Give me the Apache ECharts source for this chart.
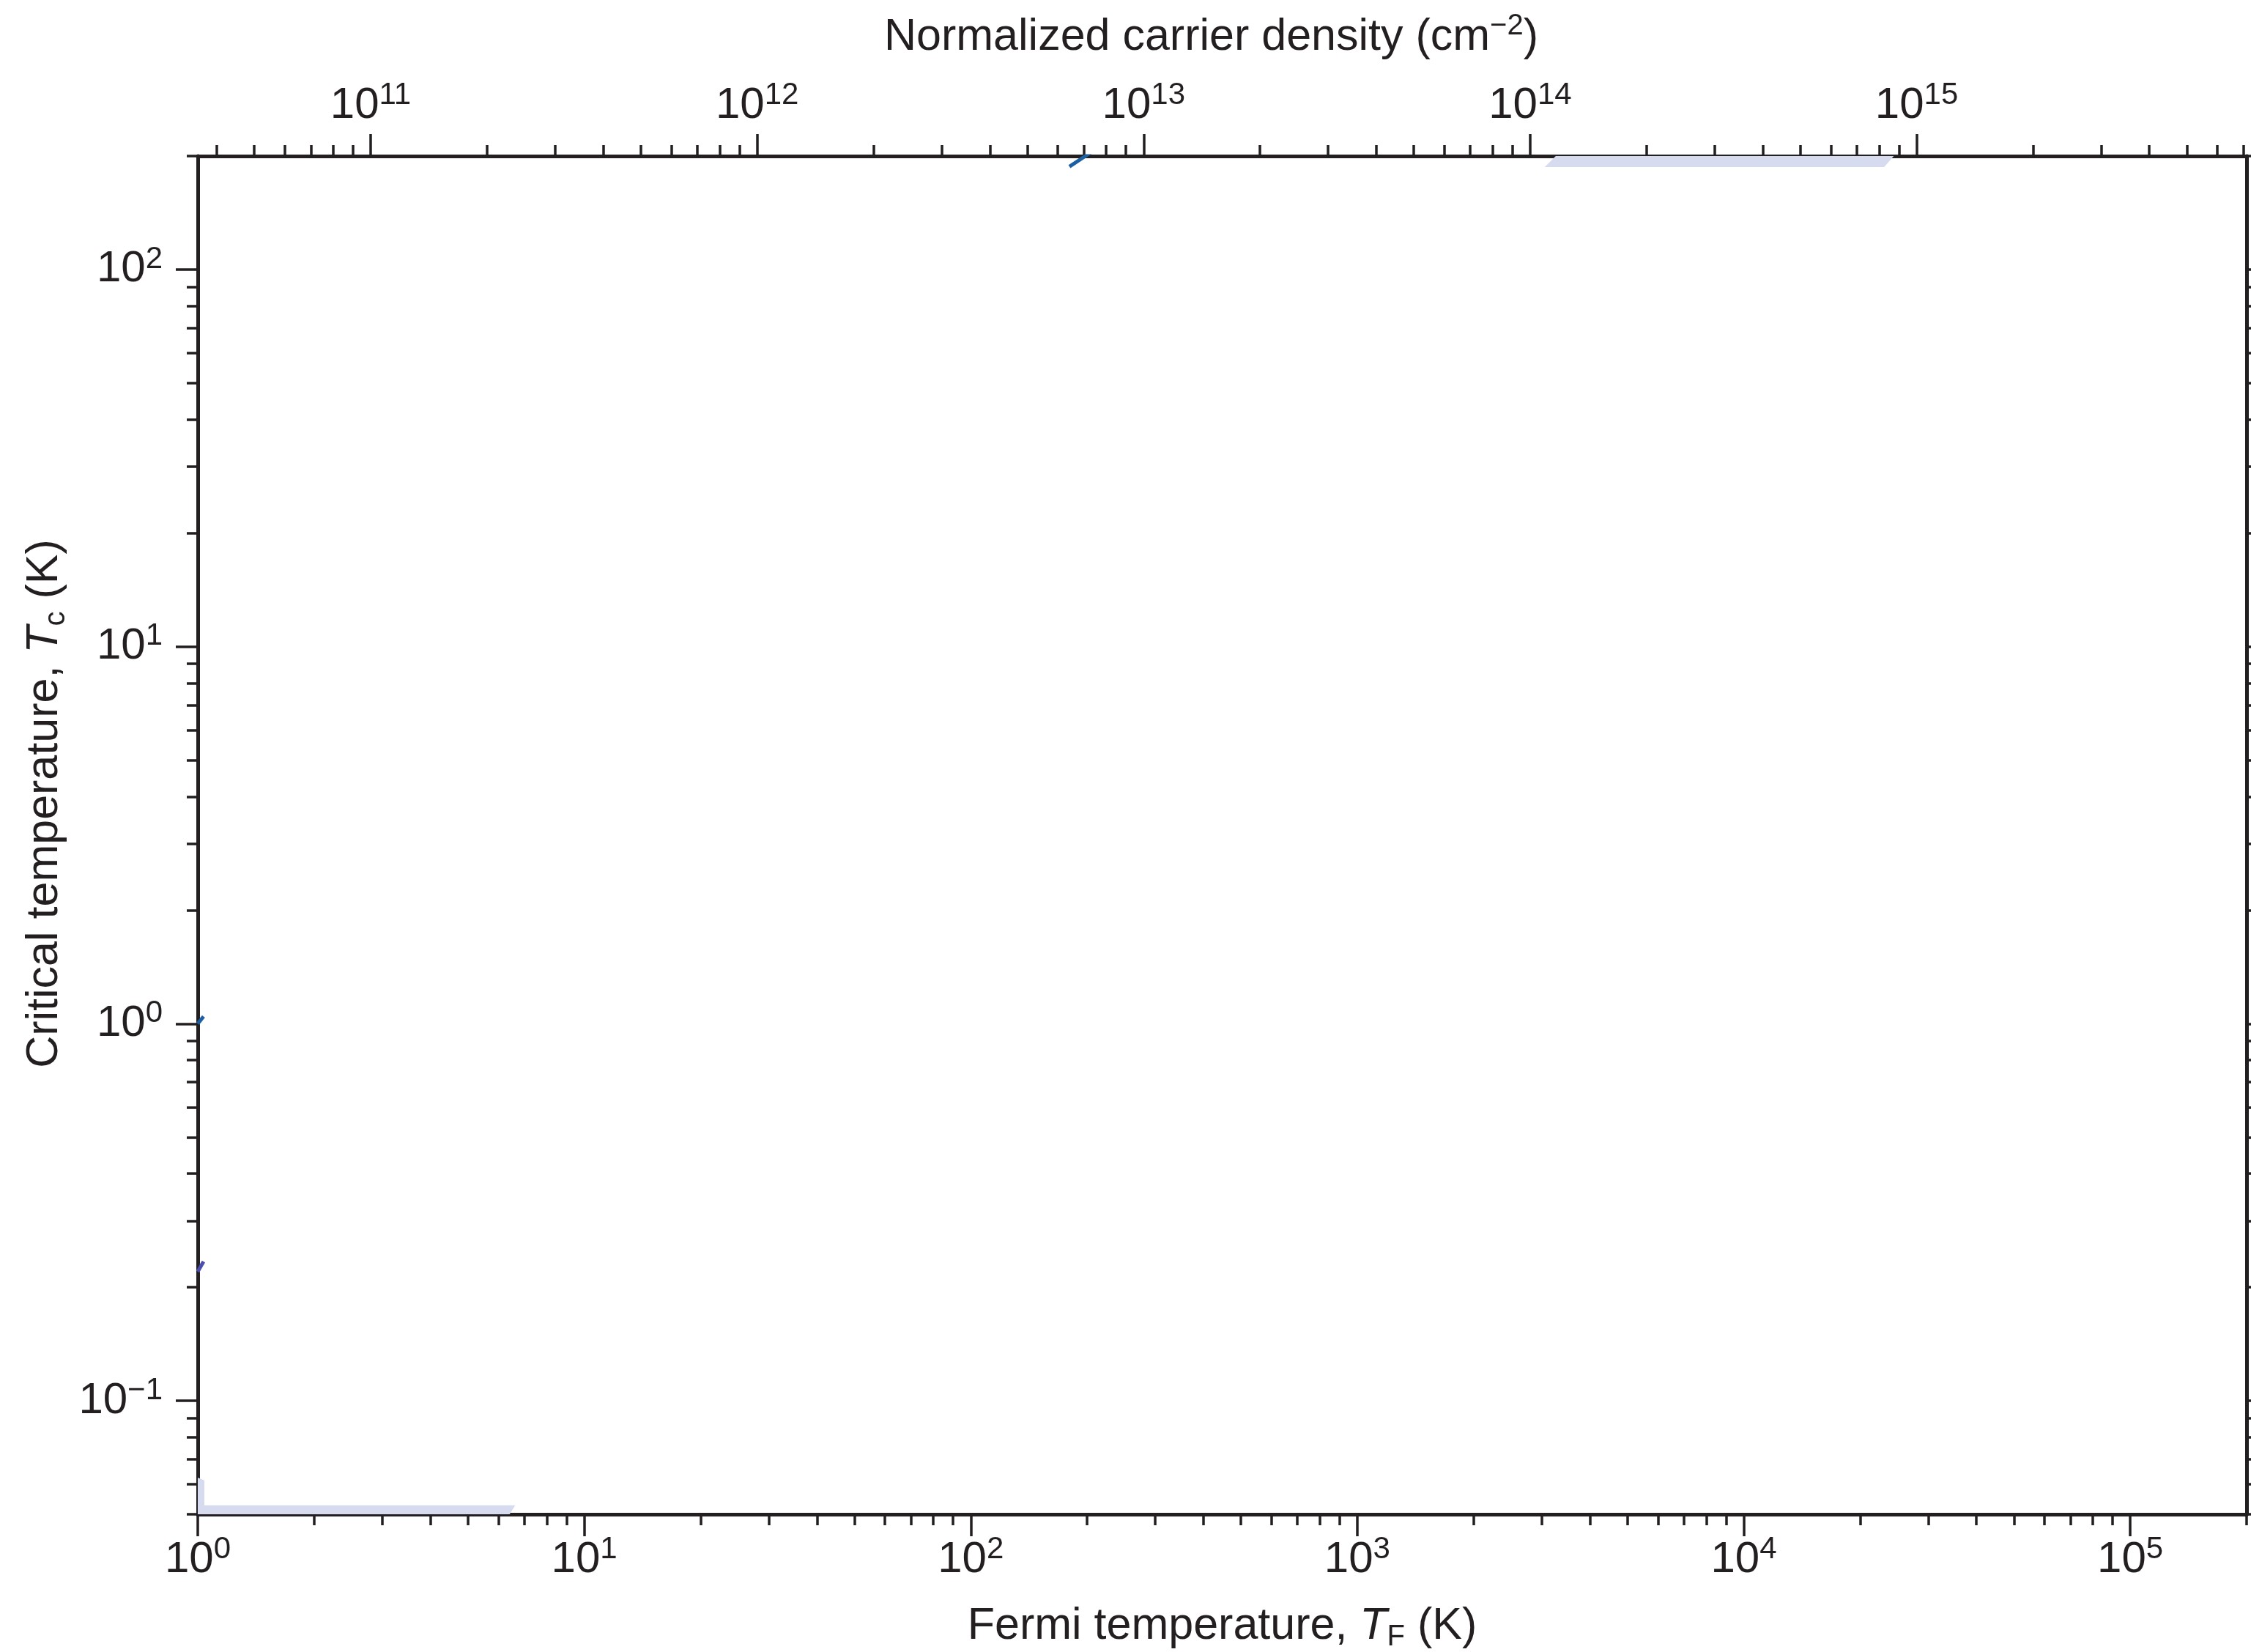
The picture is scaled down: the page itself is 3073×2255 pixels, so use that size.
<!DOCTYPE html>
<html>
<head>
<meta charset="utf-8">
<title>Critical temperature vs Fermi temperature</title>
<script src="https://cdn.jsdelivr.net/npm/echarts@6/dist/echarts.min.js"></script>
<style>
html, body { margin: 0; padding: 0; background: #fff; }
#chart { width: 3073px; height: 2255px; }
</style>
</head>
<body>
<div id="chart"></div>
<script>
// axis ranges
const tfRange = [1, 2e5];                  // Fermi temperature (K), bottom
const tcRange = [0.05, 200];               // critical temperature (K), left
const densityRange = [3.57e10, 7.14e15];   // normalized carrier density (cm^-2), top

// exponents of the labelled ticks
const tfExps = [0, 1, 2, 3, 4, 5];
const tcExps = [-1, 0, 1, 2];
const densityExps = [11, 12, 13, 14, 15];

// the bits of curves that show inside the frame
const lineBlueTop = [[180, 187.5], [198, 200], [212, 210]];
const lineBlueLeft = [[1, 1.0], [1.035, 1.045]];
const linePurpleLeft = [[1, 0.22], [1.035, 0.234]];

// shaded regions, polygon corners (TF, Tc)
const bandTop = [[3056, 187], [23080, 187], [26000, 215], [3500, 215]];
const bandBottomLeft = [[0.9, 0.045], [6.0, 0.045], [6.63, 0.0528], [1.04, 0.0528],
                        [1.04, 0.0615], [1.0, 0.0625], [0.9, 0.0625]];

const FONT = "'Liberation Sans Narrow', 'Liberation Sans', Arial, sans-serif";
const INK = '#231f20';

const powers = exps => exps.map(e => Math.pow(10, e));

// 2..9 x 10^n inside the range
function minorTicks(range) {
    const out = [];
    const lo = Math.floor(Math.log10(range[0]));
    const hi = Math.ceil(Math.log10(range[1]));
    for (let e = lo; e <= hi; e++) {
        for (let k = 2; k <= 9; k++) {
            const v = k * Math.pow(10, e);
            if (v >= range[0] * 0.9999 && v <= range[1] * 1.0001) out.push(v);
        }
    }
    return out;
}

function powLabel(v) {
    const e = Math.round(Math.log10(v));
    return '{b|10}{s|' + (e < 0 ? '\u2212' + (-e) : e) + '}';
}

const labelRich = {
    b: { fontFamily: FONT, fontSize: 60, lineHeight: 70, color: INK },
    s: { fontFamily: FONT, fontSize: 42, lineHeight: 40, verticalAlign: 'top', color: INK }
};

const nameRich = {
    n: { fontFamily: FONT, fontSize: 61, lineHeight: 70, color: INK },
    i: { fontFamily: FONT, fontSize: 61, lineHeight: 70, fontStyle: 'italic', color: INK },
    sub: { fontFamily: FONT, fontSize: 40, lineHeight: 30, verticalAlign: 'bottom', color: INK },
    sup: { fontFamily: FONT, fontSize: 40, lineHeight: 40, verticalAlign: 'top', color: INK }
};

function majorAxis(position, range, exps, labels, labelMargin) {
    return {
        type: 'log',
        logBase: 10,
        position: position,
        min: range[0],
        max: range[1],
        axisLine: { show: true, lineStyle: { color: INK, width: 5 } },
        axisTick: { show: true, inside: false, length: 30, customValues: powers(exps),
                    lineStyle: { color: INK, width: 3.5 } },
        axisLabel: { show: labels, customValues: powers(exps), formatter: powLabel,
                     margin: labelMargin, rich: labelRich, hideOverlap: false },
        splitLine: { show: false },
        minorTick: { show: false },
        axisPointer: { show: false }
    };
}

function minorAxis(position, range) {
    return {
        type: 'log',
        logBase: 10,
        position: position,
        min: range[0],
        max: range[1],
        axisLine: { show: false },
        axisTick: { show: true, inside: false, length: 15, customValues: minorTicks(range),
                    lineStyle: { color: INK, width: 3.5 } },
        axisLabel: { show: false },
        splitLine: { show: false },
        axisPointer: { show: false }
    };
}

function polygonSeries(points, color) {
    return {
        type: 'custom',
        coordinateSystem: 'cartesian2d',
        xAxisIndex: 0,
        yAxisIndex: 0,
        clip: true,
        silent: true,
        data: points,
        renderItem: function (params, api) {
            if (params.dataIndex !== 0) return null;
            return {
                type: 'polygon',
                shape: { points: points.map(p => api.coord(p)) },
                style: { fill: color }
            };
        }
    };
}

function lineSeries(data, color) {
    return {
        type: 'line',
        xAxisIndex: 0,
        yAxisIndex: 0,
        data: data,
        showSymbol: false,
        clip: true,
        silent: true,
        lineStyle: { color: color, width: 5 }
    };
}

const chart = echarts.init(document.getElementById('chart'));

const xBottom = majorAxis('bottom', tfRange, tfExps, true, 27);
xBottom.name = '{n|Fermi temperature, }{i|T}{sub|F}{n| (K)}';
xBottom.nameLocation = 'middle';
xBottom.nameGap = 118;
xBottom.nameTextStyle = { fontFamily: FONT, fontSize: 61, color: INK, rich: nameRich };

const xTop = majorAxis('top', densityRange, densityExps, true, 34);
xTop.name = '{n|Normalized carrier density (cm}{sup|\u22122}{n|)}';
xTop.nameLocation = 'middle';
xTop.nameGap = 127;
xTop.nameTextStyle = { fontFamily: FONT, fontSize: 61, color: INK, rich: nameRich,
                       padding: [0, 30, 0, 0] };

const yLeft = majorAxis('left', tcRange, tcExps, true, 48);
yLeft.name = '{n|Critical temperature, }{i|T}{sub|c}{n| (K)}';
yLeft.nameLocation = 'middle';
yLeft.nameGap = 165;
yLeft.nameTextStyle = { fontFamily: FONT, fontSize: 61, color: INK, rich: nameRich,
                        padding: [0, 0, 0, 86] };

const yRight = majorAxis('right', tcRange, tcExps, false, 10);

chart.setOption({
    backgroundColor: '#ffffff',
    animation: false,
    grid: {
        left: 270,
        right: 6,
        top: 213,
        bottom: 188,
        containLabel: false,
        outerBoundsMode: 'none'
    },
    xAxis: [xBottom, minorAxis('bottom', tfRange), xTop, minorAxis('top', densityRange)],
    yAxis: [yLeft, minorAxis('left', tcRange), yRight, minorAxis('right', tcRange)],
    series: [
        polygonSeries(bandTop, '#d7dbef'),
        polygonSeries(bandBottomLeft, '#d7dbef'),
        lineSeries(lineBlueTop, '#1c5fa3'),
        lineSeries(lineBlueLeft, '#1c5fa3'),
        lineSeries(linePurpleLeft, '#4a4fae')
    ]
});
</script>
</body>
</html>
